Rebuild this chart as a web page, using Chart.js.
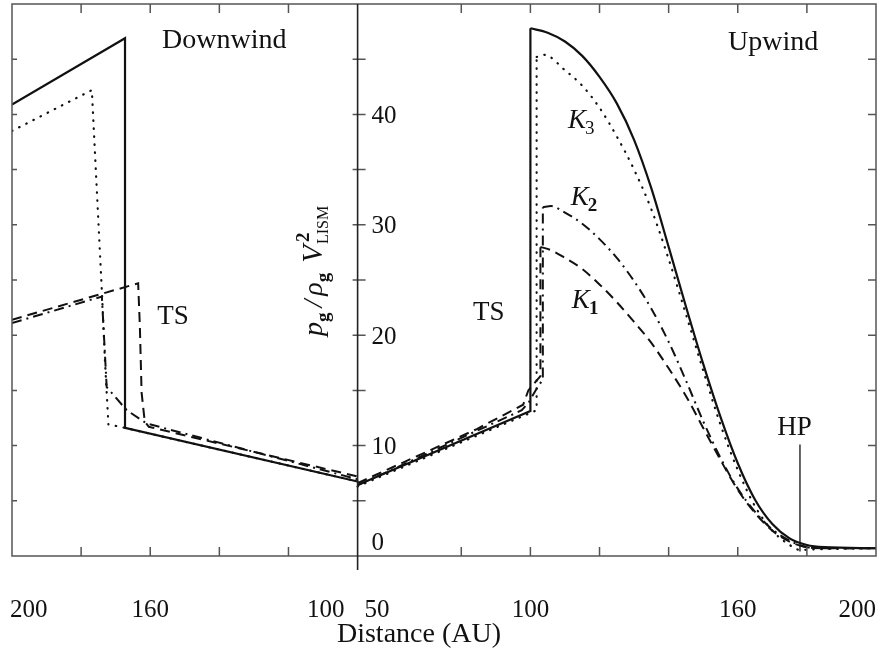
<!DOCTYPE html>
<html>
<head>
<meta charset="utf-8">
<script src="https://cdn.jsdelivr.net/npm/chart.js@4"></script>
<style>
  html, body { margin: 0; padding: 0; background: #fff; }
</style>
</head>
<body>
<canvas id="chart" width="877" height="648"></canvas>
<script>
// Downwind side, distance runs 200 -> 100 AU (left panel)
const downSolid = [[200, 40.9], [167.3, 46.9], [167.3, 11.6], [100, 6.75]];
const downK3 = [[200, 38.5], [176.9, 42.2], [174.0, 24.0], [173.1, 17.7], [172.1, 11.9], [168.5, 11.7], [167.3, 11.6], [100, 6.75]];
const downK2 = [[200, 21.1], [174.0, 23.5], [172.6, 15.3], [166.8, 13.2], [161.0, 12.0], [100, 6.95]];
const downK1 = [[200, 21.4], [163.5, 24.7], [163.0, 20.8], [162.5, 14.8], [161.6, 12.2], [160.4, 11.7], [100, 7.2]];

// Upwind side, distance runs 50 -> 200 AU (right panel)
const upSolid = [[50, 6.43], [100, 13.13], [100, 47.8], [105, 47.4], [110, 46.6], [115, 45.3], [120, 43.4],
  [125, 41.0], [130, 37.7], [135, 33.3], [140, 28.0], [145, 22.6], [150, 17.4], [155, 12.6], [160, 8.4],
  [165, 5.1], [170, 2.9], [175, 1.6], [180, 1.0], [185, 0.8], [200, 0.7]];
const upK3 = [[50, 6.3], [101.8, 13.2], [101.8, 45.2], [104, 45.4], [110, 44.0], [115, 42.6], [120, 40.6],
  [125, 38.0], [130, 35.0], [135, 31.4], [140, 26.9], [145, 21.9], [150, 16.8], [155, 11.9], [160, 7.8],
  [165, 4.5], [170, 2.3], [175, 1.0], [178, 0.55], [182, 0.6], [200, 0.7]];
const upK2 = [[50, 6.4], [97.5, 13.2], [99.5, 13.9], [101.5, 15.0], [103.6, 16.0], [103.6, 31.6], [106, 31.7],
  [110, 31.1], [115, 30.1], [120, 28.7], [125, 27.0], [130, 24.9], [135, 22.4], [140, 19.4], [145, 15.9],
  [150, 12.2], [155, 8.9], [160, 6.1], [165, 4.0], [170, 2.4], [175, 1.4], [180, 0.8], [185, 0.7], [200, 0.7]];
const upK1 = [[50, 6.6], [84.5, 11.5], [97.9, 13.7], [99.4, 15.0], [102.9, 16.3], [102.9, 28.0], [106, 27.7],
  [110, 27.0], [115, 26.0], [120, 24.6], [125, 23.0], [130, 21.2], [135, 19.3], [140, 17.0], [145, 14.5],
  [150, 11.6], [155, 8.7], [160, 6.0], [165, 3.9], [170, 2.3], [175, 1.3], [180, 0.8], [185, 0.7], [200, 0.7]];

// heliopause marker
const hpLine = [[178, 0.4], [178, 10.1]];

// ticks and labels
const downTicks = [200, 180, 160, 140, 120, 100];
const downLabels = [200, 160, 100];
const upTicks = [50, 80, 100, 120, 140, 160, 180, 200];
const upLabels = [50, 100, 160, 200];
const yTicks = [5, 10, 15, 20, 25, 30, 35, 40, 45];
const yLabels = [0, 10, 20, 30, 40];

const SERIF = '"Liberation Serif", "DejaVu Serif", serif';
const INK = '#111';

function line(points, axis, dash, width, smooth) {
  return {
    data: points.map(([x, y]) => ({ x, y })),
    xAxisID: axis,
    yAxisID: 'y',
    borderColor: INK,
    borderWidth: width,
    borderDash: dash,
    borderCapStyle: dash.length === 2 && dash[0] < 1 ? 'round' : 'butt',
    pointRadius: 0,
    fill: false,
    tension: 0,
    cubicInterpolationMode: smooth ? 'monotone' : 'default'
  };
}

// upwind curves: straight rise up to the shock jump, smooth fall after it
function upwind(points, dash, width) {
  const top = points.findIndex(p => p[1] > 20);
  return [
    line(points.slice(0, top + 1), 'xR', dash, width, false),
    line(points.slice(top), 'xR', dash, width, true)
  ];
}

const DOT = [0.5, 7.5];
const DASHDOT = [10, 5, 2, 5];
const DASH = [10, 6];

const decorations = {
  id: 'decorations',
  afterDatasetsDraw(chart) {
    const { ctx, chartArea: a, scales } = chart;
    const { xL, xR, y } = scales;
    const mid = xR.getPixelForValue(upTicks[0]);
    ctx.save();

    // frame
    ctx.strokeStyle = '#555';
    ctx.lineWidth = 1.5;
    ctx.strokeRect(a.left, a.top, a.right - a.left, a.bottom - a.top);

    // x ticks, pointing inward on top and bottom
    const xt = [];
    downTicks.forEach(v => xt.push(xL.getPixelForValue(v)));
    upTicks.forEach(v => xt.push(xR.getPixelForValue(v)));
    ctx.beginPath();
    xt.forEach(px => {
      if (px - a.left < 2 || a.right - px < 2 || Math.abs(px - mid) < 2) return;
      ctx.moveTo(px, a.bottom); ctx.lineTo(px, a.bottom - 9);
      ctx.moveTo(px, a.top); ctx.lineTo(px, a.top + 9);
    });
    // y ticks on both frame sides and across the centre axis
    yTicks.forEach(v => {
      const py = y.getPixelForValue(v);
      ctx.moveTo(a.left, py); ctx.lineTo(a.left + 5, py);
      ctx.moveTo(a.right, py); ctx.lineTo(a.right - 8, py);
      ctx.moveTo(mid - 5, py); ctx.lineTo(mid + 8, py);
    });
    ctx.stroke();

    // centre axis
    ctx.strokeStyle = '#222';
    ctx.lineWidth = 1.6;
    ctx.beginPath();
    ctx.moveTo(mid, a.top); ctx.lineTo(mid, a.bottom + 14);
    ctx.stroke();

    ctx.fillStyle = INK;
    // x tick labels
    ctx.font = '25px ' + SERIF;
    ctx.textBaseline = 'alphabetic';
    const labelY = a.bottom + 61;
    const drawX = (scale, values) => {
      values.forEach(v => {
        const px = scale.getPixelForValue(v);
        let x = px;
        if (px - a.left < 2) { ctx.textAlign = 'left'; x = px - 2; }
        else if (a.right - px < 2) { ctx.textAlign = 'right'; }
        else if (Math.abs(px - mid) < 2) {
          if (scale === xL) { ctx.textAlign = 'right'; x = px - 13; }
          else { ctx.textAlign = 'left'; x = px + 7; }
        } else { ctx.textAlign = 'center'; }
        ctx.fillText(String(v), x, labelY);
      });
    };
    drawX(xL, downLabels);
    drawX(xR, upLabels);

    // y tick labels, inside the right panel
    ctx.textAlign = 'left';
    yLabels.forEach(v => {
      const py = y.getPixelForValue(v);
      ctx.fillText(String(v), mid + 14, v === 0 ? py - 6 : py + 8.5);
    });

    // axis title
    ctx.font = '28px ' + SERIF;
    ctx.textAlign = 'center';
    ctx.fillText('Distance (AU)', 419, 642);

    // plain annotations
    ctx.textAlign = 'left';
    ctx.font = '28px ' + SERIF;
    ctx.fillText('Downwind', xL.getPixelForValue(156.6), y.getPixelForValue(46.0));
    ctx.fillText('Upwind', xR.getPixelForValue(157.2), y.getPixelForValue(45.8));
    ctx.font = '27px ' + SERIF;
    ctx.fillText('TS', xL.getPixelForValue(158.0), y.getPixelForValue(21.0));
    ctx.fillText('TS', xR.getPixelForValue(83.4), y.getPixelForValue(21.4));
    ctx.fillText('HP', xR.getPixelForValue(171.4), y.getPixelForValue(11.0));

    // K labels
    const kLabel = (sub, xv, yv, bold) => {
      const px = xR.getPixelForValue(xv), py = y.getPixelForValue(yv);
      ctx.font = 'italic 27px ' + SERIF;
      ctx.fillText('K', px, py);
      const w = ctx.measureText('K').width;
      ctx.font = (bold ? 'bold ' : '') + '19px ' + SERIF;
      ctx.fillText(sub, px + w - 1, py + 6);
    };
    kLabel('3', 110.9, 38.8, false);
    kLabel('2', 111.7, 31.8, true);
    kLabel('1', 112.0, 22.5, true);

    // rotated y title: p_g / rho_g V^2_LISM
    ctx.save();
    ctx.translate(mid - 36, 336);
    ctx.rotate(-Math.PI / 2);
    ctx.textAlign = 'left';
    let cx = 0;
    const put = (txt, font, dy) => {
      ctx.font = font;
      ctx.fillText(txt, cx, dy);
      cx += ctx.measureText(txt).width;
    };
    put('p', 'italic 28px ' + SERIF, 0);
    put('g', 'bold 19px ' + SERIF, 7);
    cx += 5;
    put('/', 'italic 28px ' + SERIF, 0);
    cx += 4;
    put('\u03c1', 'italic 28px ' + SERIF, 0);
    put('g', 'bold 19px ' + SERIF, 7);
    cx += 10;
    put('V', 'italic 29px ' + SERIF, 0);
    const sx = cx + 1;
    ctx.font = 'bold 19px ' + SERIF;
    ctx.fillText('2', sx + 2, -13);
    ctx.font = '16px ' + SERIF;
    ctx.fillText('LISM', sx, 6);
    ctx.restore();

    ctx.restore();
  }
};

new Chart(document.getElementById('chart'), {
  type: 'line',
  data: {
    datasets: [
      line(downSolid, 'xL', [], 2.2, false),
      line(downK3, 'xL', DOT, 2.2, false),
      line(downK2, 'xL', DASHDOT, 2.0, false),
      line(downK1, 'xL', DASH, 2.0, false),
      ...upwind(upSolid, [], 2.2),
      ...upwind(upK3, DOT, 2.2),
      ...upwind(upK2, DASHDOT, 2.0),
      ...upwind(upK1, DASH, 2.0),
      line(hpLine, 'xR', [], 1.3, false)
    ]
  },
  options: {
    responsive: false,
    animation: false,
    layout: { padding: { left: 12, right: 1, top: 4, bottom: 92 } },
    plugins: { legend: { display: false }, tooltip: { enabled: false } },
    scales: {
      xL: { type: 'linear', reverse: true, min: -50, max: 200, display: false },
      xR: { type: 'linear', min: -50, max: 200, display: false },
      y: { type: 'linear', min: 0, max: 50, display: false }
    }
  },
  plugins: [decorations]
});
</script>
</body>
</html>
